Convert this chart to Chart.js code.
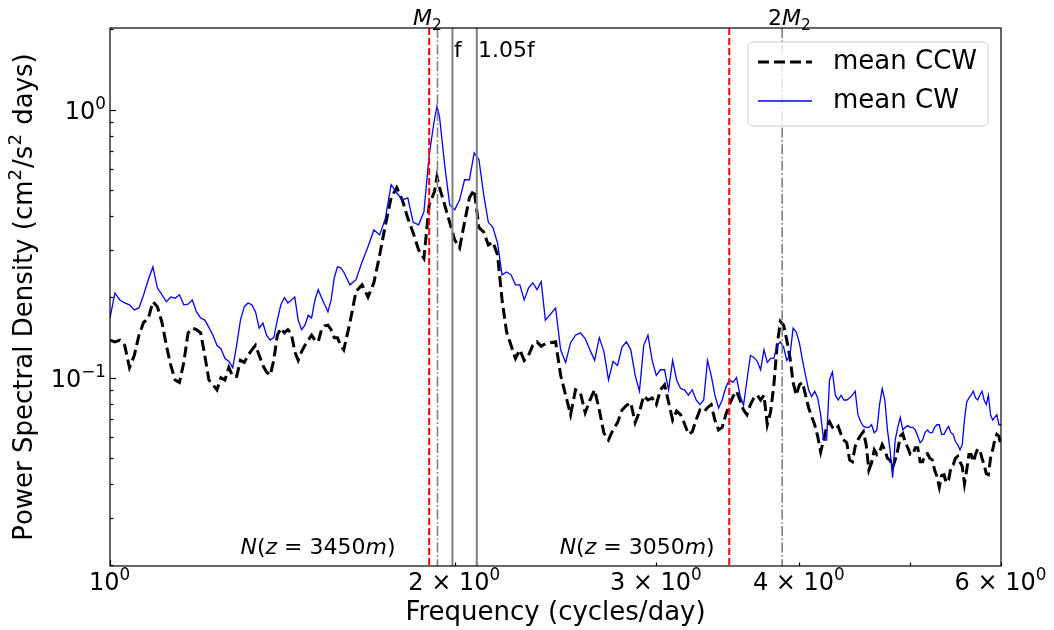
<!DOCTYPE html>
<html>
<head>
<meta charset="utf-8">
<script src="https://cdn.jsdelivr.net/npm/chart.js@4.4.1/dist/chart.umd.min.js"></script>
<style>
html, body { margin: 0; padding: 0; background: #fff; }
#wrap { width: 1054px; height: 630px; }
</style>
</head>
<body>
<div id="wrap"><canvas id="psdChart" width="1054" height="630"></canvas></div>
<script>
// frequency (cycles/day)
const FREQ = [
    1.00, 1.01, 1.02, 1.03, 1.04, 1.05, 1.06, 1.07, 1.08, 1.09,
    1.10, 1.11, 1.12, 1.13, 1.14, 1.15, 1.16, 1.17, 1.18, 1.19,
    1.20, 1.21, 1.22, 1.23, 1.24, 1.25, 1.26, 1.27, 1.28, 1.29,
    1.30, 1.31, 1.32, 1.33, 1.34, 1.35, 1.36, 1.37, 1.38, 1.39,
    1.40, 1.41, 1.42, 1.43, 1.44, 1.45, 1.46, 1.47, 1.48, 1.49,
    1.50, 1.51, 1.52, 1.53, 1.54, 1.55, 1.56, 1.57, 1.58, 1.59,
    1.60, 1.62, 1.64, 1.66, 1.68, 1.70, 1.72, 1.74, 1.76, 1.78,
    1.80, 1.82, 1.84, 1.86, 1.88, 1.90, 1.92, 1.93, 1.94, 1.96, 1.98,
    2.00, 2.02, 2.04, 2.06, 2.08, 2.10, 2.12, 2.14, 2.16, 2.18,
    2.20, 2.22, 2.24, 2.26, 2.28, 2.30, 2.32, 2.34, 2.36, 2.38, 2.40,
    2.45, 2.475, 2.50, 2.525, 2.55, 2.575, 2.60, 2.625, 2.65, 2.675,
    2.70, 2.725, 2.75, 2.775, 2.80, 2.825, 2.85, 2.875, 2.90, 2.925,
    2.95, 2.975, 3.00, 3.025, 3.05, 3.075, 3.10, 3.125, 3.15, 3.175,
    3.20, 3.225, 3.25, 3.275, 3.30, 3.325, 3.35, 3.375, 3.40, 3.425,
    3.45, 3.475, 3.50, 3.525, 3.55, 3.575, 3.60, 3.625, 3.65, 3.675,
    3.70, 3.725, 3.75, 3.775, 3.80, 3.825, 3.85, 3.875, 3.90, 3.925,
    3.95, 3.975, 4.00, 4.025, 4.05, 4.075, 4.10, 4.125, 4.15, 4.175,
    4.20, 4.225, 4.25, 4.275, 4.30, 4.325, 4.35, 4.375, 4.40, 4.425,
    4.45, 4.475, 4.50, 4.525, 4.55, 4.575, 4.60, 4.625, 4.65, 4.675,
    4.70, 4.725, 4.75, 4.775, 4.80, 4.825, 4.85, 4.875, 4.90, 4.925,
    4.95, 4.975, 5.00, 5.025, 5.05, 5.075, 5.10, 5.125, 5.15, 5.175,
    5.20, 5.225, 5.25, 5.275, 5.30, 5.325, 5.35, 5.375, 5.40, 5.425,
    5.45, 5.475, 5.50, 5.525, 5.55, 5.575, 5.60, 5.625, 5.65, 5.675,
    5.70, 5.725, 5.75, 5.775, 5.80, 5.825, 5.85, 5.875, 5.90, 5.925,
    5.95, 5.975, 6.00
];

// mean counter-clockwise PSD
const CCW = [
    0.138, 0.136, 0.138, 0.132, 0.109, 0.121, 0.144, 0.161, 0.166, 0.192,
    0.184, 0.161, 0.132, 0.111, 0.098, 0.096, 0.114, 0.147, 0.153, 0.151,
    0.147, 0.121, 0.098, 0.094, 0.090, 0.100, 0.098, 0.109, 0.101, 0.101,
    0.116, 0.114, 0.121, 0.127, 0.132, 0.121, 0.111, 0.105, 0.102, 0.116,
    0.144, 0.153, 0.147, 0.151, 0.146, 0.125, 0.116, 0.125, 0.132, 0.138,
    0.144, 0.138, 0.136, 0.151, 0.156, 0.157, 0.151, 0.141, 0.141, 0.132,
    0.127, 0.160, 0.210, 0.222, 0.200, 0.226, 0.287, 0.372, 0.469, 0.512,
    0.461, 0.394, 0.347, 0.300, 0.279, 0.442, 0.494, 0.562, 0.512, 0.442, 0.380,
    0.327, 0.305, 0.380, 0.469, 0.503, 0.363, 0.350, 0.313, 0.321, 0.287,
    0.195, 0.148, 0.132, 0.118, 0.127, 0.116, 0.121, 0.132, 0.136, 0.131, 0.134,
    0.136, 0.102, 0.086, 0.0727, 0.090, 0.088, 0.074, 0.0825, 0.090, 0.0757,
    0.062, 0.0585, 0.064, 0.0679, 0.0757, 0.0787, 0.0806, 0.0679, 0.0745, 0.0855,
    0.0825, 0.084, 0.0793, 0.090, 0.094, 0.081, 0.0695, 0.075, 0.0727, 0.0673,
    0.0614, 0.0628, 0.0695, 0.0757, 0.0745, 0.0772, 0.0793, 0.0695, 0.0638, 0.0652,
    0.0727, 0.0793, 0.085, 0.089, 0.0825, 0.0757, 0.0727, 0.0793, 0.084, 0.086,
    0.0825, 0.086, 0.0667, 0.0745, 0.094, 0.132, 0.162, 0.157, 0.138, 0.119,
    0.096, 0.086, 0.094, 0.096, 0.086, 0.0772, 0.0716, 0.0667, 0.0604, 0.0528,
    0.0585, 0.0652, 0.0684, 0.0652, 0.0638, 0.0657, 0.0614, 0.0585, 0.0571, 0.0493,
    0.0485, 0.0553, 0.0585, 0.061, 0.0628, 0.0562, 0.0452, 0.0481, 0.0537, 0.0516,
    0.0528, 0.0562, 0.0537, 0.050, 0.0493, 0.0461, 0.0493, 0.0537, 0.0604, 0.0618,
    0.0571, 0.0547, 0.0516, 0.0516, 0.0547, 0.0547, 0.0485, 0.0485, 0.0516, 0.052,
    0.050, 0.0493, 0.0452, 0.0428, 0.039, 0.0431, 0.0434, 0.0405, 0.0415, 0.0461,
    0.0473, 0.050, 0.0508, 0.0485, 0.0466, 0.0402, 0.0452, 0.0516, 0.0516, 0.0485,
    0.0516, 0.0542, 0.0537, 0.050, 0.0473, 0.0438, 0.0434, 0.050, 0.0537, 0.0585,
    0.0614, 0.0604, 0.0553
];

// mean clockwise PSD
const CW = [
    0.167, 0.207, 0.195, 0.190, 0.187, 0.179, 0.182, 0.204, 0.232, 0.259,
    0.216, 0.204, 0.192, 0.200, 0.198, 0.204, 0.187, 0.188, 0.195, 0.176,
    0.167, 0.164, 0.154, 0.144, 0.132, 0.128, 0.118, 0.115, 0.109, 0.132,
    0.164, 0.184, 0.190, 0.187, 0.176, 0.153, 0.160, 0.144, 0.138, 0.141,
    0.164, 0.187, 0.199, 0.190, 0.195, 0.200, 0.164, 0.151, 0.157, 0.171,
    0.167, 0.195, 0.213, 0.199, 0.187, 0.176, 0.195, 0.236, 0.259, 0.257,
    0.248, 0.222, 0.232, 0.270, 0.308, 0.356, 0.341, 0.394, 0.525, 0.490,
    0.461, 0.469, 0.380, 0.372, 0.416, 0.679, 0.918, 1.030, 0.940, 0.624, 0.442,
    0.423, 0.461, 0.548, 0.548, 0.690, 0.651, 0.482, 0.380, 0.363, 0.318,
    0.242, 0.248, 0.242, 0.222, 0.222, 0.195, 0.216, 0.226, 0.213, 0.228, 0.164,
    0.182, 0.127, 0.114, 0.135, 0.144, 0.147, 0.140, 0.127, 0.116, 0.141,
    0.125, 0.098, 0.115, 0.111, 0.130, 0.136, 0.127, 0.102, 0.089, 0.132,
    0.144, 0.116, 0.102, 0.107, 0.107, 0.090, 0.116, 0.098, 0.091, 0.090,
    0.086, 0.090, 0.0825, 0.0793, 0.0825, 0.116, 0.102, 0.086, 0.077, 0.0825,
    0.092, 0.098, 0.096, 0.100, 0.086, 0.0787, 0.098, 0.121, 0.119, 0.115,
    0.107, 0.127, 0.114, 0.118, 0.118, 0.132, 0.136, 0.130, 0.116, 0.121,
    0.153, 0.148, 0.135, 0.116, 0.102, 0.090, 0.085, 0.089, 0.084, 0.0727,
    0.0585, 0.0585, 0.098, 0.105, 0.086, 0.0825, 0.086, 0.0825, 0.0825, 0.084,
    0.086, 0.089, 0.0727, 0.0684, 0.0657, 0.0652, 0.0652, 0.0667, 0.0623, 0.0638,
    0.0793, 0.091, 0.0825, 0.0638, 0.0537, 0.0423, 0.0585, 0.0652, 0.071, 0.0638,
    0.0652, 0.0662, 0.0652, 0.0652, 0.0638, 0.0604, 0.0571, 0.0585, 0.0623, 0.0638,
    0.0623, 0.0623, 0.0652, 0.0667, 0.0667, 0.0614, 0.0614, 0.0638, 0.0657, 0.0623,
    0.0614, 0.0576, 0.0562, 0.0537, 0.0562, 0.0695, 0.081, 0.084, 0.086, 0.089,
    0.084, 0.0825, 0.086, 0.089, 0.0825, 0.0793, 0.086, 0.0727, 0.0695, 0.071,
    0.0727, 0.0667, 0.0667
];

const SERIES_NAMES = ['mean CCW', 'mean CW'];

const X_TICKS = [1, 2, 3, 4, 5, 6];
const X_TICK_LABELS = ['10^0', '2 × 10^0', '3 × 10^0', '4 × 10^0', '', '6 × 10^0'];
const Y_TICKS = [0.02, 0.03, 0.04, 0.05, 0.06, 0.07, 0.08, 0.09, 0.1,
                 0.2, 0.3, 0.4, 0.5, 0.6, 0.7, 0.8, 0.9, 1, 2];
const Y_TICK_LABELS = ['', '', '', '', '', '', '', '', '10^{−1}',
                       '', '', '', '', '', '', '', '', '10^0', ''];
const Y_TITLE = 'Power Spectral Density (cm^2/s^2 days)';

// reference frequencies: N(3450 m), M2, f, 1.05f, N(3050 m), 2*M2
const MARKER_FREQS = [1.90, 1.932, 1.991, 2.091, 3.474, 3.864];
const MARKER_KINDS = ['N', 'tide', 'f', 'f', 'N', 'tide'];

const ANNOT_TEXTS = ['M_2', '2M_2', 'f', '1.05f', 'N(z = 3450m)', 'N(z = 3050m)'];
const ANNOT_FREQS = [1.839, 3.755, 1.997, 2.096, 1.30, 2.47];
const ANNOT_ROWS = ['above', 'above', 'upper', 'upper', 'lower', 'lower'];
const ANNOT_MATH = [true, true, false, false, true, true];

const MARKER_STYLE = {
    N:    { color: '#ff0000', width: 2, dash: [7, 3] },
    tide: { color: '#808080', width: 1.6, dash: [10, 2.5, 1.6, 2.5] },
    f:    { color: '#808080', width: 2, dash: [] }
};

const FONT = '"DejaVu Sans"';
Chart.defaults.font.family = FONT;
Chart.defaults.color = '#000';

// tiny mathtext: "_x" subscript, "^x" / "^{..}" superscript, letters italic in math mode
function parseMath(text, math) {
    const out = [];
    for (let i = 0; i < text.length; i++) {
        let ch = text[i], mode = 0;
        if (ch === '_' || ch === '^') {
            mode = ch === '_' ? -1 : 1;
            if (text[i + 1] === '{') {
                const end = text.indexOf('}', i);
                ch = text.slice(i + 2, end);
                i = end;
            } else {
                ch = text[++i];
            }
        }
        out.push({ t: ch, mode, italic: math && /^[A-Za-z]$/.test(ch) });
    }
    return out;
}

function drawMathText(ctx, text, x, y, size, math, align) {
    const parts = parseMath(text, math);
    const fontFor = p => `${p.italic ? 'italic ' : ''}${p.mode ? size * 0.7 : size}px ${FONT}`;
    let total = 0;
    parts.forEach(p => { ctx.font = fontFor(p); p.w = ctx.measureText(p.t).width + (p.mode ? 1 : 0); total += p.w; });
    let cx = align === 'center' ? x - total / 2 : align === 'right' ? x - total : x;
    ctx.textAlign = 'left';
    parts.forEach(p => {
        ctx.font = fontFor(p);
        const dy = p.mode === -1 ? size * 0.22 : p.mode === 1 ? -size * 0.42 : 0;
        ctx.fillText(p.t, cx, y + dy);
        cx += p.w;
    });
}

const isDecade = v => Math.abs(Math.log10(v) - Math.round(Math.log10(v))) < 1e-9;

const overlay = {
    id: 'overlay',
    afterDatasetsDraw(chart) {
        const { ctx, chartArea: a, scales: { x } } = chart;
        ctx.save();
        ctx.beginPath();
        ctx.rect(a.left, a.top, a.right - a.left, a.bottom - a.top);
        ctx.clip();
        MARKER_FREQS.forEach((f, i) => {
            const st = MARKER_STYLE[MARKER_KINDS[i]];
            const px = x.getPixelForValue(f);
            ctx.strokeStyle = st.color;
            ctx.lineWidth = st.width;
            ctx.setLineDash(st.dash);
            ctx.beginPath();
            ctx.moveTo(px, a.top);
            ctx.lineTo(px, a.bottom);
            ctx.stroke();
        });
        ctx.restore();

        ctx.save();
        ctx.fillStyle = '#000';
        ctx.textBaseline = 'alphabetic';
        const rowY = { above: a.top - 3, upper: a.top + 29, lower: a.bottom - 12 };
        ANNOT_TEXTS.forEach((t, i) => {
            drawMathText(ctx, t, x.getPixelForValue(ANNOT_FREQS[i]), rowY[ANNOT_ROWS[i]], 22, ANNOT_MATH[i], 'left');
        });
        ctx.restore();
    },
    afterDraw(chart) {
        const { ctx, chartArea: a, scales: { x, y } } = chart;
        ctx.save();
        ctx.strokeStyle = '#000';
        ctx.lineWidth = 1.2;
        ctx.setLineDash([]);
        // inward ticks
        x.ticks.forEach(t => {
            const px = Math.round(x.getPixelForValue(t.value)) + 0.5;
            const len = isDecade(t.value) ? 6 : 3.5;
            ctx.beginPath(); ctx.moveTo(px, a.bottom); ctx.lineTo(px, a.bottom - len); ctx.stroke();
        });
        y.ticks.forEach(t => {
            const py = Math.round(y.getPixelForValue(t.value)) + 0.5;
            const len = isDecade(t.value) ? 6 : 3.5;
            ctx.beginPath(); ctx.moveTo(a.left, py); ctx.lineTo(a.left + len, py); ctx.stroke();
        });
        ctx.strokeRect(a.left, a.top, a.right - a.left, a.bottom - a.top);

        // tick labels with superscripts
        ctx.fillStyle = '#000';
        ctx.textBaseline = 'alphabetic';
        X_TICKS.forEach((v, i) => {
            if (X_TICK_LABELS[i]) drawMathText(ctx, X_TICK_LABELS[i], x.getPixelForValue(v), a.bottom + 24, 24, false, 'center');
        });
        Y_TICKS.forEach((v, i) => {
            if (Y_TICK_LABELS[i]) drawMathText(ctx, Y_TICK_LABELS[i], a.left - 3, y.getPixelForValue(v) + 9, 24, false, 'right');
        });

        // y axis title, rotated
        ctx.save();
        ctx.translate(32, (a.top + a.bottom) / 2);
        ctx.rotate(-Math.PI / 2);
        drawMathText(ctx, Y_TITLE, 0, 0, 26, false, 'center');
        ctx.restore();

        // legend box, upper right
        const bw = 240, bh = 84;
        const bx = a.right - 13 - bw, by = a.top + 14;
        ctx.fillStyle = 'rgba(255,255,255,0.8)';
        ctx.strokeStyle = '#cccccc';
        ctx.lineWidth = 1;
        ctx.beginPath();
        ctx.roundRect(bx, by, bw, bh, 5);
        ctx.fill();
        ctx.stroke();
        chart.data.datasets.forEach((ds, i) => {
            const ry = by + 20 + i * 39;
            ctx.strokeStyle = ds.borderColor;
            ctx.lineWidth = ds.borderWidth;
            ctx.setLineDash(ds.borderDash || []);
            ctx.beginPath();
            ctx.moveTo(bx + 10, ry);
            ctx.lineTo(bx + 64, ry);
            ctx.stroke();
            ctx.setLineDash([]);
            ctx.fillStyle = '#000';
            ctx.font = `26px ${FONT}`;
            ctx.textAlign = 'left';
            ctx.textBaseline = 'middle';
            ctx.fillText(ds.label, bx + 85, ry);
        });
        ctx.restore();
    }
};

const ctx = document.getElementById('psdChart').getContext('2d');
new Chart(ctx, {
    type: 'line',
    data: {
        datasets: [
            {
                label: SERIES_NAMES[0],
                data: FREQ.map((f, i) => ({ x: f, y: CCW[i] })),
                borderColor: '#000000',
                borderWidth: 3,
                borderDash: [11, 5],
                pointRadius: 0,
                tension: 0,
                order: 1
            },
            {
                label: SERIES_NAMES[1],
                data: FREQ.map((f, i) => ({ x: f, y: CW[i] })),
                borderColor: '#0000ff',
                borderWidth: 1.3,
                pointRadius: 0,
                tension: 0,
                order: 0
            }
        ]
    },
    options: {
        responsive: false,
        animation: false,
        devicePixelRatio: 1,
        events: [],
        layout: { padding: { top: 28, right: 53, bottom: 0, left: 0 } },
        plugins: { legend: { display: false }, tooltip: { enabled: false } },
        scales: {
            x: {
                type: 'logarithmic',
                min: 1,
                max: 6,
                afterBuildTicks: s => { s.ticks = X_TICKS.map(v => ({ value: v })); },
                afterFit: s => { s.height = 64; },
                grid: { display: false, drawTicks: false },
                border: { display: false },
                ticks: { display: false },
                title: {
                    display: true,
                    text: 'Frequency (cycles/day)',
                    color: '#000',
                    font: { size: 26 },
                    padding: { top: 0, bottom: 1 }
                }
            },
            y: {
                type: 'logarithmic',
                min: 0.0198,
                max: 2.02,
                afterBuildTicks: s => { s.ticks = Y_TICKS.map(v => ({ value: v })); },
                afterFit: s => { s.width = 110; },
                grid: { display: false, drawTicks: false },
                border: { display: false },
                ticks: { display: false },
                title: { display: false }
            }
        }
    },
    plugins: [overlay]
});
</script>
</body>
</html>
